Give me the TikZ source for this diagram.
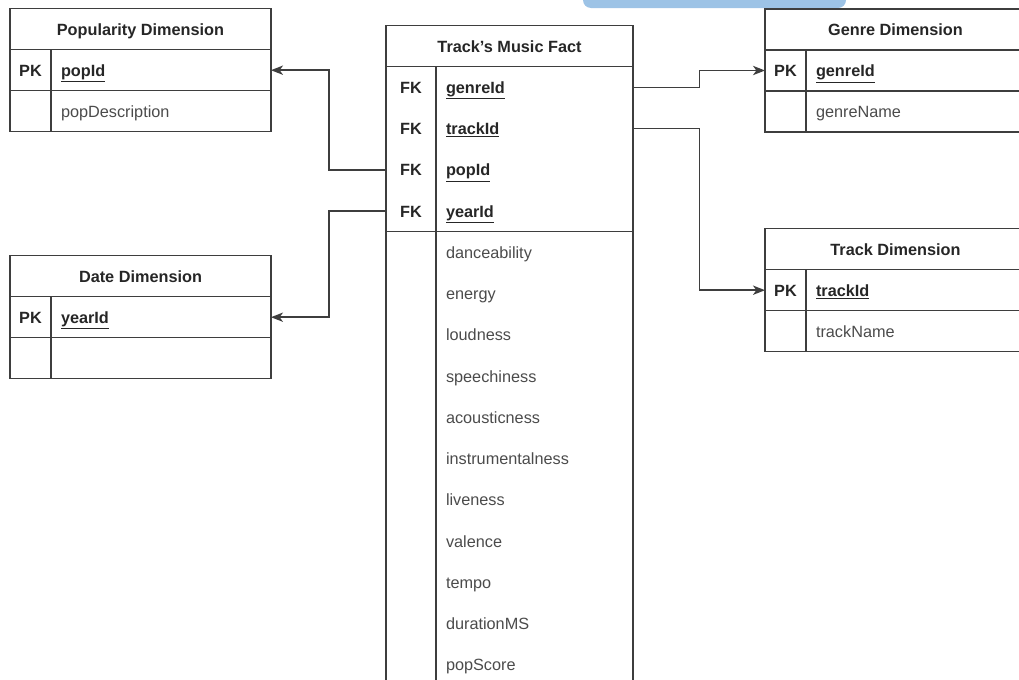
\documentclass[tikz,border=0pt]{standalone}
\usepackage{fontspec}
\setmainfont{Liberation Sans}
\usetikzlibrary{arrows.meta,positioning}
\definecolor{linegray}{RGB}{62,62,62}
\definecolor{headtext}{RGB}{38,38,38}
\definecolor{attrtext}{RGB}{75,75,75}
\definecolor{bandblue}{RGB}{157,195,230}
\newcommand{\erfont}{\fontsize{12.2}{14.6}\selectfont}

\tikzset{
  cell/.style={draw=linegray, line width=1.1pt, inner sep=0pt, outer sep=0pt,
    anchor=north west, minimum height=30.75pt, text height=11.5pt, text depth=2.4pt,
    font=\erfont},
  tablehead/.style={cell, minimum width=195.75pt, font=\erfont\bfseries, text=headtext},
  keycell/.style={cell, minimum width=30.75pt, font=\erfont\bfseries, text=headtext},
  fieldcell/.style={cell, text width=150pt, inner xsep=7.5pt, align=left, text=attrtext},
  keyname/.style={fieldcell, font=\erfont\bfseries, text=headtext},
  factkey/.style={keycell, draw=none, minimum width=37.5pt, minimum height=30.94pt},
  factfield/.style={fieldcell, draw=none, text width=132.75pt, minimum height=30.94pt},
  box/.style={draw=linegray, line width=1.1pt},
  link/.style={draw=linegray, line width=1.1pt, -{Stealth[length=9pt,width=7pt,inset=2.5pt]}},
}

\begin{document}
\begin{tikzpicture}[x=0.75pt,y=0.75pt,yscale=-1,xscale=1]
\clip (0,0) rectangle (1019,679);

% banner piece at the top
\fill [bandblue, rounded corners=6pt] (583,-14) rectangle (846,8);

% Popularity Dimension
\node (pop) [tablehead] at (10,8.7) {Popularity Dimension};
\node (popPK) [keycell] at (pop.south west) {PK};
\node (popId) [keyname] at (popPK.north east) {\underline{popId}};
\node (popKey2) [keycell] at (popPK.south west) {};
\node (popDesc) [fieldcell] at (popKey2.north east) {popDescription};

% Date Dimension
\node (date) [tablehead] at (10,255.7) {Date Dimension};
\node (datePK) [keycell] at (date.south west) {PK};
\node (yearId) [keyname] at (datePK.north east) {\underline{yearId}};
\node (dateKey2) [keycell] at (datePK.south west) {};
\node (dateField2) [fieldcell] at (dateKey2.north east) {};

% Genre Dimension
\node (genre) [tablehead] at (765,9) {Genre Dimension};
\node (genrePK) [keycell] at (genre.south west) {PK};
\node (genreId) [keyname] at (genrePK.north east) {\underline{genreId}};
\node (genreKey2) [keycell] at (genrePK.south west) {};
\node (genreName) [fieldcell] at (genreKey2.north east) {genreName};

% Track Dimension
\node (track) [tablehead] at (765,228.7) {Track Dimension};
\node (trackPK) [keycell] at (track.south west) {PK};
\node (trackId) [keyname] at (trackPK.north east) {\underline{trackId}};
\node (trackKey2) [keycell] at (trackPK.south west) {};
\node (trackName) [fieldcell] at (trackKey2.north east) {trackName};

% Track's Music Fact
\node (fact) [tablehead, minimum width=185.25pt] at (386,25.7) {Track{\char"0027}s Music Fact};
\node (fk1) [factkey] at (fact.south west) {FK};
\node (fGenre) [factfield, font=\erfont\bfseries, text=headtext] at (fk1.north east) {\underline{genreId}};
\node (fk2) [factkey] at (fk1.south west) {FK};
\node (fTrack) [factfield, font=\erfont\bfseries, text=headtext] at (fk2.north east) {\underline{trackId}};
\node (fk3) [factkey] at (fk2.south west) {FK};
\node (fPop) [factfield, font=\erfont\bfseries, text=headtext] at (fk3.north east) {\underline{popId}};
\node (fk4) [factkey] at (fk3.south west) {FK};
\node (fYear) [factfield, font=\erfont\bfseries, text=headtext] at (fk4.north east) {\underline{yearId}};
\draw [box] (fk1.north west) rectangle (fk4.south east);
\draw [box] (fGenre.north west) rectangle (fYear.south east);

\node (dance) [factfield] at (fYear.south west) {danceability};
\node (energy) [factfield] at (dance.south west) {energy};
\node (loud) [factfield] at (energy.south west) {loudness};
\node (speech) [factfield] at (loud.south west) {speechiness};
\node (acoustic) [factfield] at (speech.south west) {acousticness};
\node (instrum) [factfield] at (acoustic.south west) {instrumentalness};
\node (live) [factfield] at (instrum.south west) {liveness};
\node (valence) [factfield] at (live.south west) {valence};
\node (tempo) [factfield] at (valence.south west) {tempo};
\node (duration) [factfield] at (tempo.south west) {durationMS};
\node (popScore) [factfield] at (duration.south west) {popScore};
\coordinate (factBottom) at (0,700);
\draw [box] (fk4.south west) rectangle (fk4.south east |- factBottom);
\draw [box] (fYear.south west) rectangle (fYear.south east |- factBottom);

% links
\coordinate (rightJog) at (699.3,0);
\coordinate (leftJog) at (329,0);
\draw [link] (fGenre.east) -- (fGenre.east -| rightJog) |- (genrePK.west);
\draw [link] (fTrack.east) -- (fTrack.east -| rightJog) |- (trackPK.west);
\draw [link] (fk3.west) -- (fk3.west -| leftJog) |- (popId.east);
\draw [link] (fk4.west) -- (fk4.west -| leftJog) |- (yearId.east);

\end{tikzpicture}
\end{document}
